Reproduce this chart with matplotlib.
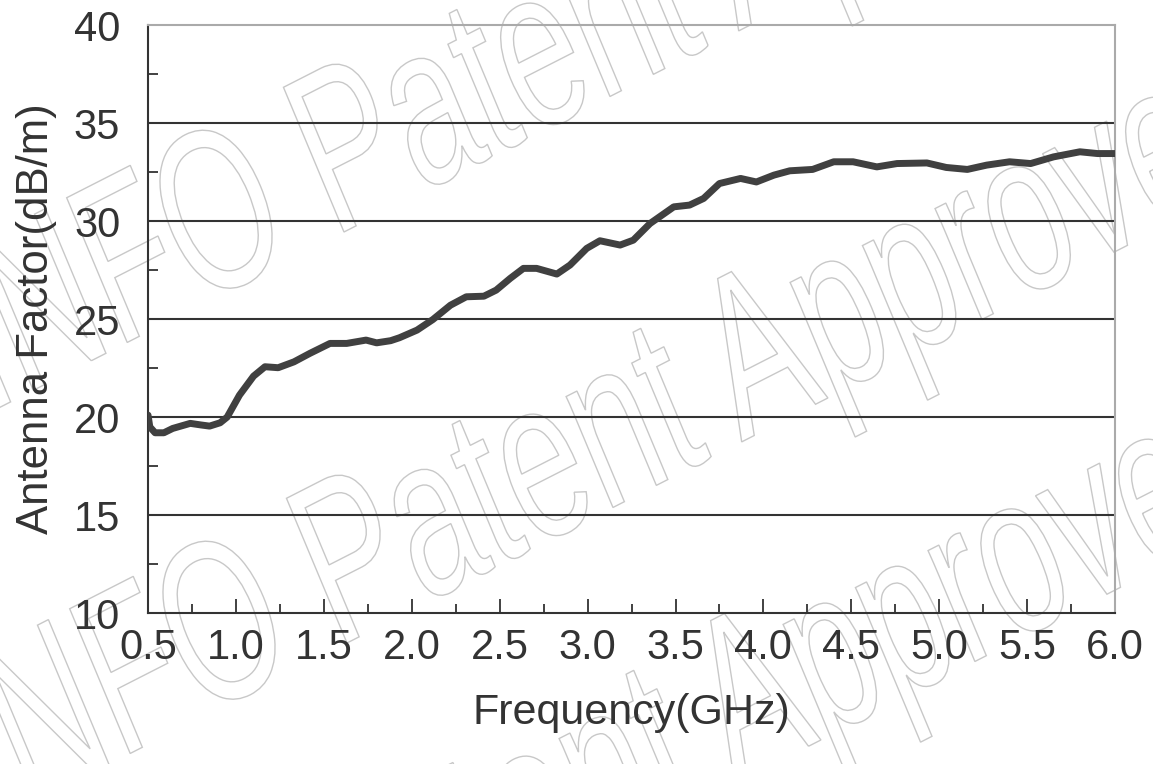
import numpy as np
import matplotlib.pyplot as plt
from matplotlib.ticker import MultipleLocator
from matplotlib.textpath import TextPath
from matplotlib.patches import PathPatch
from matplotlib.transforms import Affine2D
from matplotlib.font_manager import FontProperties

# Antenna factor curve
freq_ghz = [0.50, 0.51, 0.54, 0.59, 0.64, 0.74, 0.80, 0.85, 0.91, 0.95,
            1.02, 1.10, 1.165, 1.24, 1.33, 1.42, 1.535, 1.63, 1.74, 1.80,
            1.88, 1.93, 2.03, 2.12, 2.22, 2.31, 2.41, 2.48, 2.56, 2.635,
            2.71, 2.825, 2.90, 2.995, 3.07, 3.185, 3.26, 3.355, 3.49, 3.58,
            3.66, 3.75, 3.87, 3.96, 4.06, 4.15, 4.28, 4.40, 4.51, 4.645,
            4.76, 4.93, 5.04, 5.16, 5.27, 5.40, 5.52, 5.65, 5.80, 5.90, 6.00]
af_dbm = [20.1, 19.5, 19.2, 19.2, 19.42, 19.68, 19.6, 19.54, 19.71, 20.0,
          21.12, 22.09, 22.57, 22.52, 22.82, 23.25, 23.76, 23.76, 23.93, 23.79,
          23.9, 24.05, 24.44, 24.98, 25.71, 26.14, 26.17, 26.48, 27.08, 27.59,
          27.59, 27.30, 27.76, 28.61, 29.0, 28.78, 29.03, 29.88, 30.73, 30.82,
          31.16, 31.92, 32.18, 32.0, 32.35, 32.57, 32.64, 33.03, 33.03, 32.77,
          32.94, 32.97, 32.74, 32.64, 32.86, 33.03, 32.94, 33.28, 33.54, 33.45, 33.45]

xticks = [0.5, 1.0, 1.5, 2.0, 2.5, 3.0, 3.5, 4.0, 4.5, 5.0, 5.5, 6.0]
yticks = [10, 15, 20, 25, 30, 35, 40]

watermark = 'INFO Patent Approved'
# pixel spot (x, y from top) of the bottom of the "P" stem in each watermark line
wm_anchor = [(344, 232), (347, 643), (340, 985)]

plt.rcParams['font.family'] = ['Liberation Sans', 'DejaVu Sans']

W, H = 1153, 764
fig = plt.figure(figsize=(W / 100, H / 100), dpi=100)
ax = fig.add_axes([0.1284, 0.1976, 0.9671 - 0.1284, 0.967 - 0.1976])
ax.patch.set_alpha(0)

ax.plot(freq_ghz, af_dbm, color='#404040', lw=5, solid_capstyle='round', zorder=3)

ax.set_xlim(0.5, 6.0)
ax.set_ylim(10, 40)
ax.set_xticks(xticks)
ax.set_xticklabels([f'{v:.1f}' for v in xticks])
ax.set_yticks(yticks)
ax.xaxis.set_minor_locator(MultipleLocator(0.25))
ax.yaxis.set_minor_locator(MultipleLocator(2.5))

for y in yticks[1:-1]:
    ax.axhline(y, color='#333333', lw=1.5, zorder=1)

ax.tick_params(axis='x', which='major', direction='in', length=10, width=1.3,
               color='#333333', labelsize=30, labelcolor='#333333', pad=11)
ax.tick_params(axis='x', which='minor', direction='in', length=6.5, width=1.3, color='#333333')
ax.tick_params(axis='y', which='major', direction='in', length=10, width=1.3,
               color='#333333', labelsize=30, labelcolor='#333333', pad=20)
ax.tick_params(axis='y', which='minor', direction='in', length=7, width=1.3, color='#333333')

for side in ['left', 'bottom']:
    ax.spines[side].set_color('#333333')
    ax.spines[side].set_linewidth(1.5)
for side in ['top', 'right']:
    ax.spines[side].set_color('#aaaaaa')
    ax.spines[side].set_linewidth(1.5)

ax.set_xlabel('Frequency(GHz)', fontsize=31, color='#333333', labelpad=18)
ax.set_ylabel('Antenna Factor(dB/m)', fontsize=31.5, color='#333333', labelpad=12)

# outlined, rotated watermark text behind the chart
fp = FontProperties(family='Liberation Sans')
tp = TextPath((0, 0), watermark, size=1, prop=fp)
x_p = (TextPath((0, 0), 'INFO Patent', size=1, prop=fp).get_extents().x1
       - TextPath((0, 0), 'Patent', size=1, prop=fp).get_extents().width)
a, b = np.radians(27), np.radians(112.7)
sx, sy = 146, 228
u = np.array([sx * np.cos(a), sx * np.sin(a)])
v = np.array([sy * np.cos(b), sy * np.sin(b)])
for px, py in wm_anchor:
    o = np.array([px, H - py]) - x_p * u
    tr = Affine2D(np.array([[u[0], v[0], o[0]],
                            [u[1], v[1], o[1]],
                            [0, 0, 1]]))
    fig.add_artist(PathPatch(tp, transform=tr, facecolor='none', edgecolor='#c8c8c8',
                             lw=1.0, zorder=-1))

fig.savefig('out.png', dpi=100)
